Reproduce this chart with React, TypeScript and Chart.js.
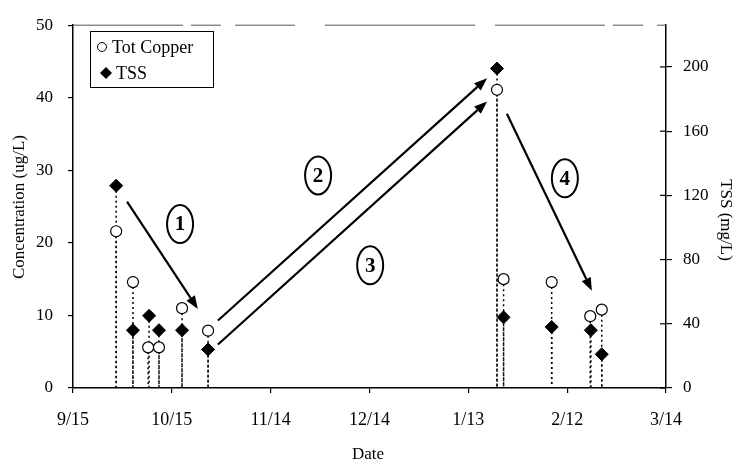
import React, { useEffect, useRef } from "react";
import { Chart, registerables } from "chart.js";

Chart.register(...registerables);

// ---- data ----
const xTickLabels = ["9/15", "10/15", "11/14", "12/14", "1/13", "2/12", "3/14"];
const cuDays = [13.1, 18.2, 22.8, 26.1, 33.1, 41.0, 128.7, 130.7, 145.3, 157.0, 160.5];
const cuValues = [21.6, 14.6, 5.6, 5.6, 11.0, 7.9, 41.1, 15.0, 14.6, 9.9, 10.8];
const tssDays = [13.1, 18.2, 23.1, 26.1, 33.1, 41.0, 128.7, 130.7, 145.3, 157.2, 160.5];
const tssValues = [126, 36, 45, 36, 36, 24, 199, 44, 38, 36, 21];

// annotation arrows (day, concentration units)
const arrowFromDay = [16.4, 44.0, 44.0, 131.7];
const arrowFromVal = [25.7, 9.3, 6.0, 37.8];
const arrowToDay = [37.9, 125.7, 125.7, 157.5];
const arrowToVal = [10.9, 42.7, 39.5, 13.4];
// circled step labels
const stepLabels = ["1", "2", "3", "4"];
const stepDay = [32.5, 74.4, 90.2, 149.3];
const stepVal = [22.6, 29.3, 16.9, 28.9];

const SERIF = "'Liberation Serif', 'Times New Roman', serif";

const overlayPlugin = {
  id: "overlay",
  beforeDatasetsDraw(chart: any) {
    const ctx = chart.ctx;
    const bottom = chart.chartArea.bottom;
    ctx.save();
    ctx.strokeStyle = "#000";
    ctx.lineWidth = 1.5;
    ctx.setLineDash([2, 3]);
    chart.data.datasets.forEach((_: any, di: number) => {
      const meta = chart.getDatasetMeta(di);
      meta.data.forEach((el: any) => {
        ctx.beginPath();
        ctx.moveTo(el.x, el.y);
        ctx.lineTo(el.x, bottom);
        ctx.stroke();
      });
    });
    ctx.restore();
  },
  afterDraw(chart: any) {
    const ctx = chart.ctx;
    const xs = chart.scales.x;
    const ys = chart.scales.y;
    const y1 = chart.scales.y1;
    const ca = chart.chartArea;
    ctx.save();

    // top border (broken line)
    ctx.strokeStyle = "#555";
    ctx.lineWidth = 1;
    ctx.setLineDash([110, 8, 30, 14, 60, 30, 150, 20]);
    ctx.beginPath();
    ctx.moveTo(ca.left, ca.top);
    ctx.lineTo(ca.right, ca.top);
    ctx.stroke();
    ctx.setLineDash([]);

    // inner ticks on right axis
    ctx.strokeStyle = "#000";
    ctx.lineWidth = 1.2;
    y1.ticks.forEach((t: any) => {
      const py = y1.getPixelForValue(t.value);
      ctx.beginPath();
      ctx.moveTo(ca.right - 6, py);
      ctx.lineTo(ca.right, py);
      ctx.stroke();
    });

    // arrows
    ctx.fillStyle = "#000";
    ctx.lineWidth = 2.2;
    for (let i = 0; i < arrowFromDay.length; i++) {
      const x0 = xs.getPixelForValue(arrowFromDay[i]);
      const yy0 = ys.getPixelForValue(arrowFromVal[i]);
      const x1 = xs.getPixelForValue(arrowToDay[i]);
      const yy1 = ys.getPixelForValue(arrowToVal[i]);
      const ang = Math.atan2(yy1 - yy0, x1 - x0);
      const hl = 13, hw = 5;
      const bx = x1 - hl * Math.cos(ang);
      const by = yy1 - hl * Math.sin(ang);
      ctx.beginPath();
      ctx.moveTo(x0, yy0);
      ctx.lineTo(bx, by);
      ctx.stroke();
      ctx.beginPath();
      ctx.moveTo(x1, yy1);
      ctx.lineTo(bx + hw * Math.sin(ang), by - hw * Math.cos(ang));
      ctx.lineTo(bx - hw * Math.sin(ang), by + hw * Math.cos(ang));
      ctx.closePath();
      ctx.fill();
    }

    // circled labels
    ctx.lineWidth = 2;
    ctx.textAlign = "center";
    ctx.textBaseline = "middle";
    ctx.font = `bold 21px ${SERIF}`;
    for (let i = 0; i < stepLabels.length; i++) {
      const cx = xs.getPixelForValue(stepDay[i]);
      const cy = ys.getPixelForValue(stepVal[i]);
      ctx.beginPath();
      ctx.ellipse(cx, cy, 13, 19, 0, 0, Math.PI * 2);
      ctx.stroke();
      ctx.fillText(stepLabels[i], cx, cy + 1);
    }

    // legend
    ctx.lineWidth = 1;
    ctx.strokeRect(90.5, 31.5, 123, 56);
    ctx.beginPath();
    ctx.arc(102, 47, 4.5, 0, Math.PI * 2);
    ctx.fillStyle = "#fff";
    ctx.fill();
    ctx.stroke();
    ctx.fillStyle = "#000";
    ctx.beginPath();
    ctx.moveTo(106, 67);
    ctx.lineTo(112, 73);
    ctx.lineTo(106, 79);
    ctx.lineTo(100, 73);
    ctx.closePath();
    ctx.fill();
    ctx.textAlign = "left";
    ctx.font = `18px ${SERIF}`;
    ctx.fillText("Tot Copper", 112, 48);
    ctx.fillText("TSS", 116, 74);

    // axis titles
    ctx.font = `17px ${SERIF}`;
    ctx.textAlign = "center";
    ctx.save();
    ctx.translate(20, 207);
    ctx.rotate(-Math.PI / 2);
    ctx.fillText("Concentration (ug/L)", 0, 0);
    ctx.restore();
    ctx.save();
    ctx.translate(725, 220);
    ctx.rotate(Math.PI / 2);
    ctx.fillText("TSS (mg/L)", 0, 0);
    ctx.restore();
    ctx.fillText("Date", 368, 455);

    ctx.restore();
  },
};

export default function App() {
  const ref = useRef<HTMLCanvasElement | null>(null);
  useEffect(() => {
    if (!ref.current) return;
    const tickFont = { family: SERIF, size: 17 };
    const chart = new Chart(ref.current, {
      type: "scatter",
      data: {
        datasets: [
          {
            label: "TSS",
            data: tssDays.map((d, i) => ({ x: d, y: tssValues[i] })),
            yAxisID: "y1",
            pointStyle: "rectRot",
            pointRadius: 6.5,
            backgroundColor: "#000",
            borderColor: "#000",
            borderWidth: 1,
          },
          {
            label: "Tot Copper",
            data: cuDays.map((d, i) => ({ x: d, y: cuValues[i] })),
            yAxisID: "y",
            pointStyle: "circle",
            pointRadius: 5.5,
            backgroundColor: "#fff",
            borderColor: "#000",
            borderWidth: 1.2,
          },
        ],
      },
      options: {
        responsive: false,
        animation: false,
        events: [],
        layout: { padding: { top: 16, left: 0, right: 0, bottom: 0 } },
        plugins: { legend: { display: false }, tooltip: { enabled: false } },
        scales: {
          x: {
            type: "linear",
            min: 0,
            max: 180,
            afterFit: (s: any) => { s.height = 78; },
            ticks: {
              stepSize: 30,
              autoSkip: false,
              maxRotation: 0,
              padding: 16,
              color: "#000",
              font: { family: SERIF, size: 18 },
              callback: (v: any) => xTickLabels[Math.round(Number(v) / 30)] ?? "",
            },
            grid: { drawOnChartArea: false, color: "#000", tickLength: 5, lineWidth: 1.2 },
            border: { color: "#000", width: 1.5 },
          },
          y: {
            position: "left",
            min: 0,
            max: 50,
            afterFit: (s: any) => { s.width = 73; },
            ticks: { stepSize: 10, padding: 15, color: "#000", font: tickFont },
            grid: { drawOnChartArea: false, color: "#000", tickLength: 5, lineWidth: 1.2 },
            border: { color: "#000", width: 1.5 },
          },
          y1: {
            position: "right",
            min: 0,
            max: 226,
            afterFit: (s: any) => { s.width = 68; },
            ticks: { stepSize: 40, includeBounds: false, padding: 11, color: "#000", font: tickFont },
            grid: { drawOnChartArea: false, color: "#000", tickLength: 6, lineWidth: 1.2 },
            border: { color: "#000", width: 1.5 },
          },
        },
      } as any,
      plugins: [overlayPlugin],
    });
    return () => chart.destroy();
  }, []);
  return (
    <div style={{ position: "fixed", left: 0, top: 0, width: 734, height: 466, background: "#fff" }}>
      <canvas ref={ref} width={734} height={466} style={{ width: 734, height: 466, display: "block" }} />
    </div>
  );
}
